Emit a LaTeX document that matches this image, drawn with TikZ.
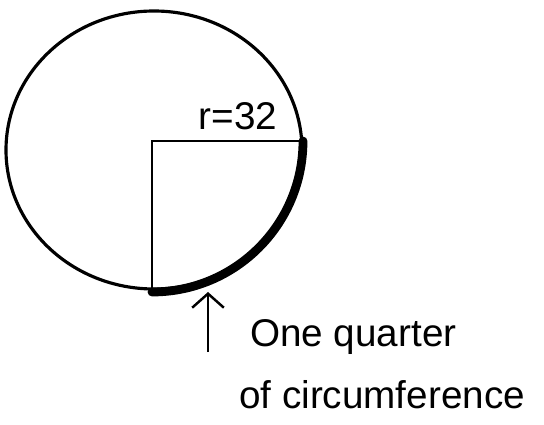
\documentclass[tikz,border=0pt]{standalone}
\usepackage{fontspec}
\setsansfont{Liberation Sans}
\usetikzlibrary{arrows.meta}
\begin{document}
\begin{tikzpicture}[x=0.02cm,y=-0.02cm]
	\useasboundingbox (0,0) rectangle (544,425);
	\coordinate (O) at (152,141);
	\coordinate (R) at (303,141);
	\coordinate (B) at (152,290);
	\coordinate (T) at (208,352);
	% outer circle, drawn by hand
	\draw[line width=1.8pt] (154,150) ellipse [x radius=148, y radius=139];
	% radius and quarter
	\draw[line width=1.4pt] (B)--(O)--(R);
	\draw[line width=5pt, line cap=round] (R) arc[start angle=0, end angle=90, radius=151];
	\node[font=\sffamily\fontsize{22}{22}\selectfont] (rlab) at (238,116) {r=32};
	\coordinate (A) at (208,292);
	\draw[line width=1.6pt, -{Straight Barb[length=8pt, width=18pt, line width=1.4pt]}] (T)--(A);
	\node[font=\sffamily\fontsize{22}{22}\selectfont, anchor=base west] (q1) at (244,346) {One quarter};
	\node[font=\sffamily\fontsize{22}{22}\selectfont, anchor=base west] (q2) at (233,408) {of circumference};
\end{tikzpicture}
\end{document}
